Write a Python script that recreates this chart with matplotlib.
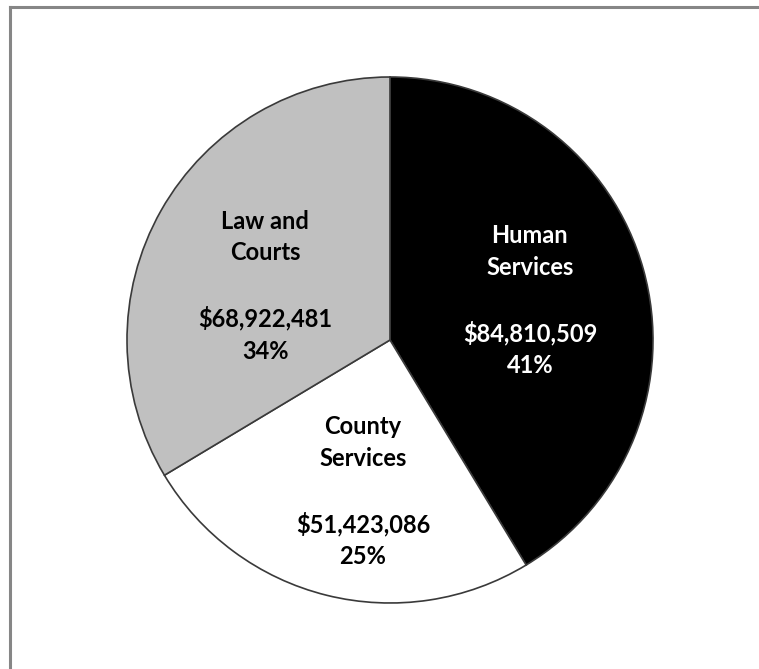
import matplotlib.pyplot as plt
from matplotlib.lines import Line2D

# budget by service area
areas = ["Human\nServices", "County\nServices", "Law and\nCourts"]
amounts = [84810509, 51423086, 68922481]
fills = ["#000000", "#ffffff", "#c0c0c0"]
text_colors = ["white", "black", "black"]
label_xy = [(0.532, 0.150), (-0.103, -0.576), (-0.475, 0.205)]

total = sum(amounts)

fig = plt.figure(figsize=(7.59, 6.69), dpi=100)
fig.patch.set_facecolor("white")

# frame edges along the top and left
fig.add_artist(Line2D([10 / 759, 1.0], [1 - 7 / 669, 1 - 7 / 669],
                      transform=fig.transFigure, color="#868686", linewidth=2.2))
fig.add_artist(Line2D([10 / 759, 10 / 759], [0.0, 1 - 7 / 669],
                      transform=fig.transFigure, color="#868686", linewidth=2.2))

cx, cy, r = 390, 340, 263
ax = fig.add_axes([(cx - r) / 759, (669 - cy - r) / 669, 2 * r / 759, 2 * r / 669])
ax.pie(amounts, colors=fills, startangle=90, counterclock=False,
       wedgeprops={"edgecolor": "#3a3a3a", "linewidth": 1.2})
ax.set_xlim(-1, 1)
ax.set_ylim(-1, 1)
ax.axis("off")

for name, amount, (x, y), tc in zip(areas, amounts, label_xy, text_colors):
    pct = round(100 * amount / total)
    txt = name + "\n\n" + "${:,}".format(amount) + "\n" + str(pct) + "%"
    ax.text(x, y, txt, ha="center", va="center", color=tc, fontsize=17,
            fontweight="bold", family="Lato", linespacing=1.47)

fig.savefig("out.png", dpi=100)
